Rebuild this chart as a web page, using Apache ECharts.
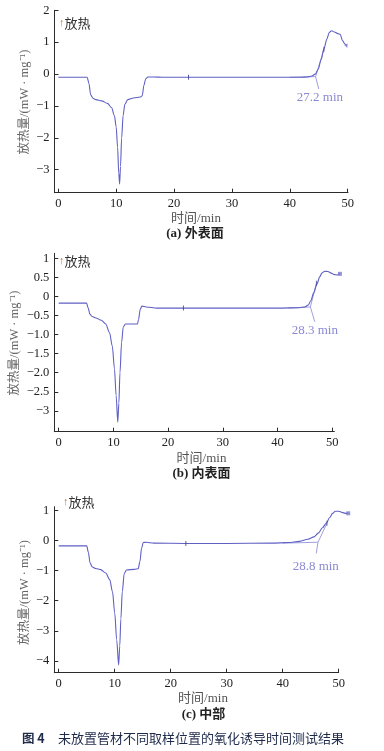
<!DOCTYPE html>
<html><head><meta charset="utf-8">
<script src="https://cdn.jsdelivr.net/npm/echarts@6/dist/echarts.min.js"></script>
<style>html,body{margin:0;padding:0;background:#fff}#c{width:384px;height:751px}</style>
</head><body><div id="c"></div>
<script>
// ---------- data ----------
const xTickValues = [0, 10, 20, 30, 40, 50];
const xTickLabels = ['0', '10', '20', '30', '40', '50'];

const aYTickValues = [2, 1, 0, -1, -2, -3];
const aYTickLabels = ['2', '1', '0', '−1', '−2', '−3'];
const bYTickValues = [1, 0.5, 0, -0.5, -1, -1.5, -2, -2.5, -3];
const bYTickLabels = ['1', '0.5', '0', '−0.5', '−1.0', '−1.5', '−2.0', '−2.5', '−3'];
const cYTickValues = [1, 0, -1, -2, -3, -4];
const cYTickLabels = ['1', '0', '−1', '−2', '−3', '−4'];

// (a) 外表面
const aTime  = [0, 5.0, 5.3, 5.6, 6.0, 6.5, 7.5, 8.5, 9.2, 9.7, 10.0, 10.25, 10.45, 10.6, 10.75, 10.95, 11.2, 11.5, 12.0, 13.0, 14.2, 14.5, 14.8, 15.1, 15.5, 16.5, 18, 22.5, 30, 40, 42, 43, 43.8, 44.4, 44.9, 45.4, 45.9, 46.4, 46.8, 47.2, 47.7, 48.3, 48.7, 49.1, 49.5, 49.8];
const aValue = [-0.1, -0.1, -0.3, -0.65, -0.76, -0.8, -0.84, -0.92, -1.05, -1.3, -1.65, -2.3, -3.1, -3.45, -2.9, -2.0, -1.3, -0.95, -0.8, -0.75, -0.72, -0.68, -0.35, -0.15, -0.09, -0.09, -0.1, -0.1, -0.1, -0.1, -0.1, -0.09, -0.06, 0.0, 0.15, 0.45, 0.8, 1.1, 1.3, 1.36, 1.32, 1.27, 1.25, 1.05, 0.95, 0.88];
// (b) 内表面
const bTime  = [0, 5.1, 5.4, 5.7, 6.1, 6.8, 7.8, 8.6, 9.3, 9.8, 10.2, 10.5, 10.8, 11.0, 11.2, 11.5, 11.8, 12.2, 13.5, 14.4, 14.6, 14.9, 15.2, 16, 18, 22.8, 30, 40, 44, 45, 45.6, 46.1, 46.6, 47.2, 47.7, 48.1, 48.6, 49.2, 49.8, 50.4, 50.9, 51.4];
const bValue = [-0.17, -0.17, -0.3, -0.46, -0.52, -0.56, -0.62, -0.72, -0.95, -1.3, -1.9, -2.6, -3.3, -2.8, -2.0, -1.2, -0.8, -0.72, -0.72, -0.72, -0.6, -0.33, -0.25, -0.27, -0.3, -0.3, -0.3, -0.3, -0.29, -0.27, -0.22, -0.1, 0.1, 0.33, 0.52, 0.62, 0.67, 0.66, 0.62, 0.58, 0.57, 0.6];
// (c) 中部
const cTime  = [0, 5.0, 5.3, 5.6, 6.0, 6.6, 7.5, 8.4, 9.1, 9.6, 10.0, 10.35, 10.7, 10.9, 11.1, 11.35, 11.7, 12.1, 13.5, 14.2, 14.5, 14.8, 15.1, 15.6, 17, 22.7, 30, 38, 41, 43, 44.5, 45.6, 46.4, 47.1, 47.8, 48.4, 48.9, 49.4, 50.0, 50.6, 51.2, 51.7];
const cValue = [-0.18, -0.18, -0.4, -0.75, -0.88, -0.93, -0.97, -1.08, -1.3, -1.7, -2.4, -3.3, -4.13, -3.5, -2.6, -1.7, -1.1, -0.98, -0.96, -0.94, -0.7, -0.25, -0.07, -0.06, -0.09, -0.1, -0.1, -0.09, -0.07, -0.03, 0.04, 0.12, 0.25, 0.42, 0.58, 0.76, 0.9, 0.97, 0.97, 0.93, 0.9, 0.9];

// small tick marks on the curves
const aMarkTime = [22.5, 45.9];  const aMarkValue = [-0.1, 0.78];
const bMarkTime = [22.8, 47.1];  const bMarkValue = [-0.3, 0.35];
const cMarkTime = [22.7, 47.9];  const cMarkValue = [-0.1, 0.57];

// OIT construction (tangent, baseline extension, leader) and labels
const aTangent = [[44.45, -0.08], [45.9, 0.78]];
const aLeader  = [[44.45, -0.08], [45.0, -0.47]];
const aBase    = [[40, -0.1], [44.45, -0.08]];
const aOIT = '27.2 min'; const aOITPos = [45.2, -0.74];
const bTangent = [[46.0, -0.27], [47.1, 0.35]];
const bLeader  = [[46.0, -0.27], [46.8, -0.66]];
const bBase    = [[42, -0.3], [46.0, -0.27]];
const bOIT = '28.3 min'; const bOITPos = [46.8, -0.89];
const cTangent = [[46.3, -0.06], [47.9, 0.57]];
const cLeader  = [[46.3, -0.06], [46.0, -0.43]];
const cBase    = [[40, -0.09], [46.3, -0.06]];
const cOIT = '28.8 min'; const cOITPos = [45.9, -0.87];

const panelTitles = ['(a) 外表面', '(b) 内表面', '(c) 中部'];
const yName = '放热量/(mW · mg⁻¹)';
const xName = '时间/min';
const exoLabel = '放热';
const figNo = '图 4';
const caption = '未放置管材不同取样位置的氧化诱导时间测试结果';

// ---------- chart ----------
const SERIF = '"Liberation Serif","Noto Sans CJK SC",serif';
const CJK = '"Noto Sans CJK SC",sans-serif';
const LINE = '#5f5fc4';
const LIGHT = '#9494dc';
const AX = '#2b2b2b';

const zip = (t, v) => t.map((x, i) => [x, v[i]]);

// visible axis frames
const grids = [
  {left: 54.5, top: 10.3, width: 293.5, height: 182.4},
  {left: 54.3, top: 253.3, width: 280, height: 178.4},
  {left: 54.3, top: 506.7, width: 284.4, height: 166}
];
const xRanges = [[-0.65, 50.05], [-0.8, 50.37], [-0.79, 50]];
const yRanges = [[-3.72, 2], [-3.55, 1.14], [-4.39, 1.12]];
const dataXMax = [51, 52, 52.5]; // plotting area continues past the drawn axis end
const yTicks = [[aYTickValues, aYTickLabels], [bYTickValues, bYTickLabels], [cYTickValues, cYTickLabels]];

// data grids share the same scale, only wider to the right
const dataGrids = grids.map((g, i) => {
  const ppu = g.width / (xRanges[i][1] - xRanges[i][0]);
  return {left: g.left, top: g.top, height: g.height, width: ppu * (dataXMax[i] - xRanges[i][0])};
});

function xAxisOf(i) {
  return {
    type: 'value', gridIndex: i, min: xRanges[i][0], max: xRanges[i][1],
    axisLine: {show: true, onZero: false, lineStyle: {color: AX, width: 1}},
    axisTick: {show: true, inside: true, length: 4, customValues: xTickValues, lineStyle: {color: AX}},
    axisLabel: {customValues: xTickValues, margin: 5, color: '#222', fontFamily: SERIF, fontSize: 12.5,
      formatter: v => xTickLabels[xTickValues.indexOf(v)]},
    splitLine: {show: false}
  };
}
function yAxisOf(i) {
  const [vals, labs] = yTicks[i];
  return {
    type: 'value', gridIndex: i, min: yRanges[i][0], max: yRanges[i][1],
    axisLine: {show: true, onZero: false, lineStyle: {color: AX, width: 1}},
    axisTick: {show: true, inside: true, length: 4, customValues: vals, lineStyle: {color: AX}},
    axisLabel: {customValues: vals, margin: 5, color: '#222', fontFamily: SERIF, fontSize: 12.5,
      formatter: v => labs[vals.indexOf(v)]},
    splitLine: {show: false}
  };
}
function hiddenX(i) {
  return {type: 'value', gridIndex: 3 + i, min: xRanges[i][0], max: dataXMax[i], show: false};
}
function hiddenY(i) {
  return {type: 'value', gridIndex: 3 + i, min: yRanges[i][0], max: yRanges[i][1], show: false};
}

const curves = [zip(aTime, aValue), zip(bTime, bValue), zip(cTime, cValue)];
const marks = [zip(aMarkTime, aMarkValue), zip(bMarkTime, bMarkValue), zip(cMarkTime, cMarkValue)];
const tangents = [aTangent, bTangent, cTangent];
const leaders = [aLeader, bLeader, cLeader];
const bases = [aBase, bBase, cBase];
const oits = [[aOIT, aOITPos], [bOIT, bOITPos], [cOIT, cOITPos]];

const series = [];
for (let i = 0; i < 3; i++) {
  const ax = 3 + i;
  const segStyle = {color: LIGHT, width: 0.9};
  series.push({type: 'line', xAxisIndex: ax, yAxisIndex: ax, data: bases[i], showSymbol: false, lineStyle: segStyle, silent: true, z: 2});
  series.push({type: 'line', xAxisIndex: ax, yAxisIndex: ax, data: tangents[i], showSymbol: false, lineStyle: segStyle, silent: true, z: 2});
  series.push({type: 'line', xAxisIndex: ax, yAxisIndex: ax, data: leaders[i], showSymbol: false, lineStyle: segStyle, silent: true, z: 2});
  series.push({type: 'line', xAxisIndex: ax, yAxisIndex: ax, data: curves[i], showSymbol: false,
    smooth: 0.3, smoothMonotone: 'x', lineStyle: {color: LINE, width: 1.1}, z: 3});
  series.push({type: 'scatter', xAxisIndex: ax, yAxisIndex: ax, data: marks[i], symbol: 'rect', symbolSize: [1, 5],
    itemStyle: {color: '#3a3a8a'}, z: 4});
  const last = curves[i][curves[i].length - 1];
  series.push({type: 'scatter', xAxisIndex: ax, yAxisIndex: ax, data: [last], symbol: i === 0 ? 'triangle' : 'rect',
    symbolSize: 4, symbolRotate: i === 0 ? 200 : 0, itemStyle: {color: '#7a7ad0'}, z: 4});
  series.push({type: 'scatter', xAxisIndex: ax, yAxisIndex: ax, data: [oits[i][1]], symbolSize: 0, clip: false,
    label: {show: true, position: 'inside', formatter: oits[i][0], color: '#6c6cc8', fontFamily: SERIF, fontSize: 13}, z: 5});
}

const graphics = [];
const exoPos = [[59, 23.5], [59, 261], [63, 502.5]];
const yNamePos = [[25, 102], [15, 343], [25, 592.5]];
const xNamePos = [[196, 218.5], [201.5, 458.5], [203, 699]];
const titlePos = [[195, 233.5], [201.5, 473.5], [203.5, 714.5]];
for (let i = 0; i < 3; i++) {
  graphics.push({type: 'text', x: exoPos[i][0], y: exoPos[i][1], style: {
    text: '{a|↑}{b|' + exoLabel + '}', textVerticalAlign: 'middle',
    rich: {a: {fill: '#b4824a', fontFamily: SERIF, fontSize: 11}, b: {fill: '#333', fontFamily: CJK, fontSize: 13}}}});
  graphics.push({type: 'text', x: yNamePos[i][0], y: yNamePos[i][1], rotation: Math.PI / 2, style: {
    text: yName, textAlign: 'center', textVerticalAlign: 'middle', fill: '#666', fontFamily: SERIF, fontSize: 12.5}});
  graphics.push({type: 'text', x: xNamePos[i][0], y: xNamePos[i][1], style: {
    text: xName, textAlign: 'center', textVerticalAlign: 'middle', fill: '#555', fontFamily: SERIF, fontSize: 13}});
  graphics.push({type: 'text', x: titlePos[i][0], y: titlePos[i][1], style: {
    text: panelTitles[i], textAlign: 'center', textVerticalAlign: 'middle', fill: '#222', fontFamily: SERIF, fontSize: 13, fontWeight: 'bold'}});
}
graphics.push({type: 'text', x: 22, y: 738.5, style: {
  text: '{a|' + figNo + '}{b|' + caption + '}', textVerticalAlign: 'middle',
  rich: {a: {fill: '#1e2a4a', fontFamily: CJK, fontSize: 12.5, fontWeight: 'bold', width: 36},
         b: {fill: '#1e2a4a', fontFamily: CJK, fontSize: 13, fontWeight: 'normal'}}}});

const chart = echarts.init(document.getElementById('c'), null, {renderer: 'canvas'});
chart.setOption({
  animation: false,
  backgroundColor: '#fff',
  grid: grids.concat(dataGrids),
  xAxis: [0, 1, 2].map(xAxisOf).concat([0, 1, 2].map(hiddenX)),
  yAxis: [0, 1, 2].map(yAxisOf).concat([0, 1, 2].map(hiddenY)),
  series: series,
  graphic: graphics
});
</script></body></html>
